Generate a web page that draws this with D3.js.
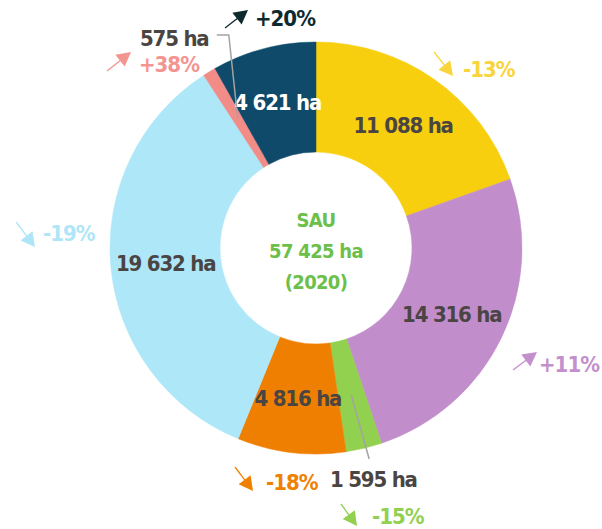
<!DOCTYPE html>
<html>
<head>
<meta charset="utf-8">
<script src="https://cdn.jsdelivr.net/npm/d3@7"></script>
<style>
  html, body { margin: 0; padding: 0; background: #fff; }
  svg { display: block; }
  text { font-family: "DejaVu Sans Condensed", "DejaVu Sans", sans-serif; font-stretch: condensed; font-weight: bold; }
</style>
</head>
<body>
<svg id="chart" width="602" height="529"></svg>
<script>
// ---- data ----
const categories = ["Cultures A", "Cultures B", "Cultures C", "Cultures D", "Cultures E", "Cultures F", "Cultures G"];
const values = [11088, 14316, 1595, 4816, 19632, 575, 4621];
const valueLabels = ["11 088 ha", "14 316 ha", "1 595 ha", "4 816 ha", "19 632 ha", "575 ha", "4 621 ha"];
const changes = ["-13%", "+11%", "-15%", "-18%", "-19%", "+38%", "+20%"];
const centerLines = ["SAU", "57 425 ha", "(2020)"];

// ---- styles ----
const sliceColors = ["#F7CF0F", "#C18DCB", "#92D050", "#EF7F00", "#AEE7F8", "#F28C87", "#0F4A6B"];
const changeColors = ["#F9D43A", "#C48FCD", "#92D050", "#F08000", "#AEE6F7", "#F49490", "#0E2A2F"];
const labelColors = ["#4A4542", "#4A4542", "#4A4542", "#4A4542", "#4A4542", "#4A4542", "#FFFFFF"];

const W = 602, H = 529;
const cx = 316, cy = 248, R = 206, r = 96;
const FS = 22, LS = -1.2;

const svg = d3.select("#chart");
const g = svg.append("g").attr("transform", `translate(${cx},${cy})`);

const pie = d3.pie().sort(null).value(d => d);
const arcs = pie(values);
const arc = d3.arc().innerRadius(r).outerRadius(R);

g.selectAll("path.slice")
  .data(arcs)
  .join("path")
  .attr("class", "slice")
  .attr("d", arc)
  .attr("fill", (d, i) => sliceColors[i])
  .attr("stroke", (d, i) => sliceColors[i])
  .attr("stroke-width", 0.5);

// labels inside big slices; small slices get leader lines
const smallIdx = new Set([2, 5]);
g.selectAll("text.val")
  .data(arcs.filter((d, i) => !smallIdx.has(i)))
  .join("text")
  .attr("class", "val")
  .attr("transform", d => `translate(${arc.centroid(d)})`)
  .attr("dy", "0.38em")
  .attr("text-anchor", "middle")
  .attr("font-size", FS)
  .attr("letter-spacing", LS)
  .attr("fill", d => labelColors[d.index])
  .text(d => valueLabels[d.index]);

// leader lines (relative offsets from centroids)
const leaders = {
  5: { pts: c => [c, [c[0] - 9, -213], [c[0] - 21, -213]], text: [-176, -202], anchor: "start" },
  2: { pts: c => [c, [c[0] + 18, 211]], text: [14, 239], anchor: "start" }
};
Object.entries(leaders).forEach(([k, L]) => {
  const i = +k;
  const c = arc.centroid(arcs[i]);
  g.append("path")
    .attr("d", d3.line()(L.pts(c)))
    .attr("fill", "none")
    .attr("stroke", "#A3A3A3")
    .attr("stroke-width", 1.5);
  g.append("text")
    .attr("x", L.text[0]).attr("y", L.text[1])
    .attr("text-anchor", L.anchor)
    .attr("font-size", FS)
    .attr("letter-spacing", LS)
    .attr("fill", "#4A4542")
    .text(valueLabels[i]);
});

// change annotations with arrows: [arrow start, arrow end, text x, baseline, anchor]
const annot = [
  { a: [434, 52], b: [453, 76], t: [463, 77], an: "start" },
  { a: [513, 370], b: [537, 352], t: [599, 372], an: "end" },
  { a: [341, 504], b: [357, 526], t: [372, 524], an: "start" },
  { a: [235, 467], b: [253, 491], t: [266, 490], an: "start" },
  { a: [16, 222], b: [35, 247], t: [43, 241], an: "start" },
  { a: [107, 71], b: [131, 52], t: [139, 72], an: "start" },
  { a: [225, 28], b: [248, 10], t: [255, 26], an: "start" }
];
const ann = svg.append("g");
annot.forEach((p, i) => {
  const col = changeColors[i];
  const dx = p.b[0] - p.a[0], dy = p.b[1] - p.a[1];
  const len = Math.hypot(dx, dy);
  const ux = dx / len, uy = dy / len;
  const hl = 14, hw = 7.5;
  const bx = p.b[0] - ux * hl, by = p.b[1] - uy * hl;
  ann.append("line")
    .attr("x1", p.a[0]).attr("y1", p.a[1])
    .attr("x2", bx + ux * 2).attr("y2", by + uy * 2)
    .attr("stroke", col).attr("stroke-width", 1.3);
  ann.append("path")
    .attr("d", d3.line()([[p.b[0], p.b[1]], [bx - uy * hw, by + ux * hw], [bx + uy * hw, by - ux * hw]]) + "Z")
    .attr("fill", col);
  ann.append("text")
    .attr("x", p.t[0]).attr("y", p.t[1])
    .attr("text-anchor", p.an)
    .attr("font-size", FS)
    .attr("letter-spacing", -1)
    .attr("fill", col)
    .text(changes[i]);
});

// center text
g.selectAll("text.center")
  .data(centerLines)
  .join("text")
  .attr("class", "center")
  .attr("text-anchor", "middle")
  .attr("y", (d, i) => -21 + i * 31)
  .attr("font-size", 20)
  .attr("letter-spacing", -0.7)
  .attr("fill", "#6CC04A")
  .text(d => d);
</script>
</body>
</html>
